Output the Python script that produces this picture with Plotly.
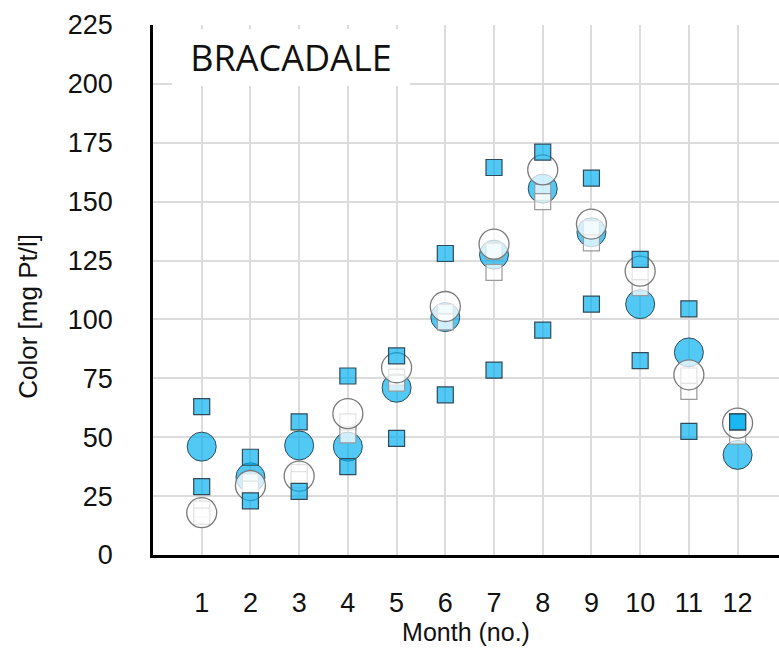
import plotly.graph_objects as go

# Monthly colour statistics, Bracadale
months = [1, 2, 3, 4, 5, 6, 7, 8, 9, 10, 11, 12]

obs_mean = [46, 33, 46.5, 46, 71, 101, 127.5, 155.5, 137, 106.5, 86, 42.5]
obs_max = [63, 41.5, 56.5, 76, 84.5, 128, 164.5, 171, 160, 125.5, 104.5, 56.5]
obs_min = [29, 23, 27, 37.5, 49.5, 68, 78.5, 95.5, 106.5, 82.5, 52.5, 56.5]

sim_mean = [18, 29.5, 33.5, 60, 79.5, 105.5, 132, 163.5, 140.5, 120.5, 76.5, 56]
sim_upper = [19.5, 31, 35, 56.5, 75.5, 103, 129, 154, 138.5, 120, 76, 56]
sim_lower = [16.5, 28, 32, 51, 73, 99, 120, 150, 132.5, 113.5, 69.5, 50.5]

y_ticks = [0, 25, 50, 75, 100, 125, 150, 175, 200, 225]

BLUE = "rgba(0,176,240,0.68)"
BLUE_EDGE = "#2f4a58"
WHITE_T = "rgba(255,255,255,0.72)"

fig = go.Figure()

# observed monthly mean
fig.add_trace(go.Scatter(
    x=months, y=obs_mean, mode="markers", name="Observed mean",
    marker=dict(symbol="circle", size=29, color=BLUE,
                line=dict(color=BLUE_EDGE, width=1)),
))

# simulated range (open squares)
for ys, nm in [(sim_upper, "Simulated upper"), (sim_lower, "Simulated lower")]:
    fig.add_trace(go.Scatter(
        x=months, y=ys, mode="markers", name=nm,
        marker=dict(symbol="square", size=16, color=WHITE_T,
                    line=dict(color="#9a9a9a", width=1.2)),
    ))

# simulated monthly mean (open circles)
fig.add_trace(go.Scatter(
    x=months, y=sim_mean, mode="markers", name="Simulated mean",
    marker=dict(symbol="circle", size=30, color=WHITE_T,
                line=dict(color="#7a7a7a", width=1.3)),
))

# observed range (filled squares)
for ys, nm in [(obs_max, "Observed max"), (obs_min, "Observed min")]:
    fig.add_trace(go.Scatter(
        x=months, y=ys, mode="markers", name=nm,
        marker=dict(symbol="square", size=16, color=BLUE,
                    line=dict(color=BLUE_EDGE, width=1.2)),
    ))

tick_font = dict(family="Liberation Sans, Arial, sans-serif", size=27, color="#111")
title_font = dict(family="Liberation Sans, Arial, sans-serif", size=25, color="#111")

fig.update_layout(
    width=779, height=657,
    margin=dict(l=153, r=0, t=25, b=102),
    paper_bgcolor="white", plot_bgcolor="white",
    showlegend=False,
    xaxis=dict(
        range=[0, 12.85], tickvals=months, ticktext=[str(m) for m in months],
        showgrid=True, gridcolor="#dcdcdc", gridwidth=1.5,
        zeroline=False, showline=True, linecolor="black", linewidth=2.5,
        ticks="", ticklabelstandoff=22, tickfont=tick_font,
        title=dict(text="Month (no.)", font=title_font, standoff=4),
    ),
    yaxis=dict(
        range=[0, 225], tickvals=y_ticks,
        showgrid=True, gridcolor="#dcdcdc", gridwidth=1.5,
        zeroline=False, showline=True, linecolor="black", linewidth=2.5,
        ticks="", ticklabelstandoff=32, tickfont=tick_font,
    ),
)

# y-axis title, set a little below the middle of the axis
fig.add_annotation(
    xref="x domain", yref="y domain", x=-0.200, y=0.451,
    xanchor="center", yanchor="middle", textangle=-90,
    text="Color [mg Pt/l]", showarrow=False,
    font=dict(family="Liberation Sans, Arial, sans-serif", size=26, color="#111"),
)

# site name in a white box that hides the grid behind it
fig.add_annotation(
    xref="x domain", yref="y domain", x=0.030, y=0.993,
    xanchor="left", yanchor="top", width=238, height=57,
    align="center", valign="middle",
    bgcolor="white", borderpad=0, borderwidth=0,
    text="BRACADALE", showarrow=False,
    font=dict(family="Open Sans, Noto Sans, sans-serif", size=36, color="#111"),
)

fig.write_html("out.html")
